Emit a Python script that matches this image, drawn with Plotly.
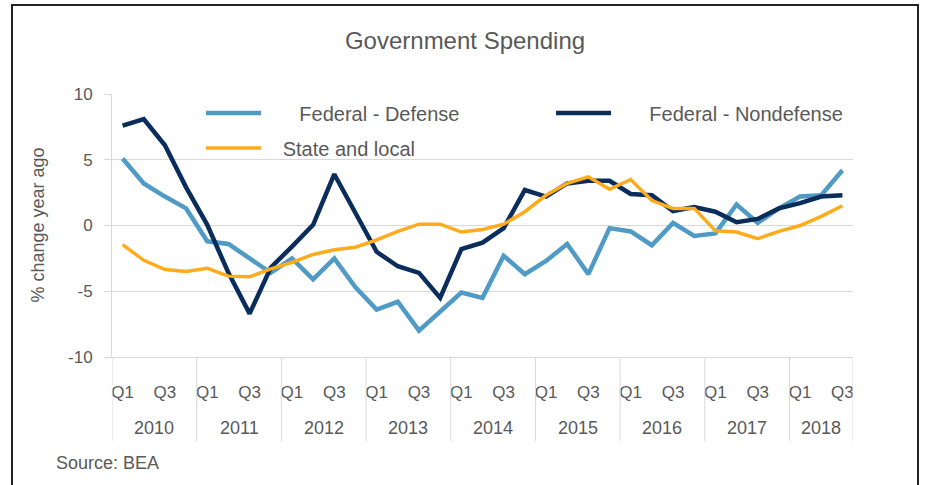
import plotly.graph_objects as go

years = ["2010", "2011", "2012", "2013", "2014", "2015", "2016", "2017", "2018"]
quarters = ["Q1", "Q2", "Q3", "Q4"]
shown_quarters = ["Q1", "Q3"]

defense = [5.1, 3.2, 2.2, 1.3, -1.2, -1.4, -2.5, -3.6, -2.5, -4.1, -2.5, -4.7,
           -6.4, -5.8, -8.0, -6.6, -5.1, -5.5, -2.3, -3.7, -2.7, -1.4, -3.7, -0.2,
           -0.45, -1.5, 0.2, -0.8, -0.6, 1.6, 0.2, 1.3, 2.2, 2.3, 4.2]
nondefense = [7.6, 8.1, 6.1, 2.9, 0.05, -3.6, -6.7, -3.2, -1.6, 0.05, 3.9, 0.9,
              -2.0, -3.1, -3.6, -5.5, -1.8, -1.3, -0.2, 2.7, 2.2, 3.2, 3.4, 3.4,
              2.4, 2.3, 1.1, 1.4, 1.05, 0.25, 0.5, 1.3, 1.7, 2.2, 2.3]
state_local = [-1.45, -2.65, -3.35, -3.5, -3.25, -3.85, -3.9, -3.3, -2.8, -2.2, -1.85, -1.65,
               -1.1, -0.45, 0.1, 0.1, -0.5, -0.3, 0.1, 1.05, 2.3, 3.2, 3.7, 2.75,
               3.5, 1.9, 1.3, 1.3, -0.4, -0.5, -1.0, -0.45, 0.0, 0.7, 1.5]

y_ticks = [-10, -5, 0, 5, 10]
y_ticktext = ["-10", "-5", "0", "5", "10"]

n = len(defense)
cats = [f"{years[i // 4]} {quarters[i % 4]}" for i in range(n)]
tick_vals = [c for c in cats if c.split(" ")[1] in shown_quarters]
tick_text = [c.split(" ")[1] for c in tick_vals]

FONT = "Liberation Sans, Arial, sans-serif"
TXT = "#595959"
GRID = "#d9d9d9"
SP = "\u00a0"

fig = go.Figure()
fig.add_trace(go.Scatter(x=cats, y=defense, mode="lines", name=SP * 6 + "Federal - Defense",
                         line=dict(color="#4F9BC6", width=4.5), legend="legend"))
fig.add_trace(go.Scatter(x=cats, y=nondefense, mode="lines", name=SP * 6 + "Federal - Nondefense",
                         line=dict(color="#0A2D5C", width=4.5), legend="legend"))
fig.add_trace(go.Scatter(x=cats, y=state_local, mode="lines", name=SP * 3 + "State and local",
                         line=dict(color="#FFAB1C", width=3.5), legend="legend2"))

W, H = 925, 485
L, R, T, B = 112, 72, 94, 128
pw, ph = W - L - R, H - T - B


def px(X):
    return (X - L) / pw


def py(Y):
    return (H - B - Y) / ph


fig.update_layout(
    width=W, height=H,
    margin=dict(l=L, r=R, t=T, b=B, autoexpand=False),
    paper_bgcolor="white", plot_bgcolor="white",
    font=dict(family=FONT, color=TXT, size=17),
    title=dict(text="Government Spending", x=465 / W, xanchor="center", xref="container",
               y=1 - 41 / H, yanchor="middle", yref="container",
               font=dict(size=24, color=TXT, family=FONT)),
    showlegend=True,
    legend=dict(orientation="h", x=px(201), xanchor="left", y=py(113), yanchor="middle",
                font=dict(size=20, color=TXT, family=FONT), bgcolor="rgba(0,0,0,0)",
                itemwidth=55, entrywidth=280, traceorder="normal"),
    legend2=dict(orientation="h", x=px(201), xanchor="left", y=py(148), yanchor="middle",
                 font=dict(size=20, color=TXT, family=FONT), bgcolor="rgba(0,0,0,0)",
                 itemwidth=55),
    xaxis=dict(type="category", categoryorder="array", categoryarray=cats,
               range=[-0.5, n - 0.5], showline=True, linecolor=GRID, linewidth=1,
               showgrid=False, ticks="", tickangle=0,
               tickvals=tick_vals, ticktext=tick_text,
               tickfont=dict(size=17, color=TXT, family=FONT),
               ticklabelstandoff=20),
    yaxis=dict(range=[-10, 10], tickvals=y_ticks, ticktext=y_ticktext,
               showgrid=True, gridcolor=GRID, gridwidth=1,
               zeroline=False, showline=True, linecolor=GRID, linewidth=1,
               ticks="outside", ticklen=7, tickcolor=GRID,
               tickfont=dict(size=17, color=TXT, family=FONT), ticklabelstandoff=8),
)

# year group labels and dividers on the category axis
for k, yr in enumerate(years):
    idx = [i for i, c in enumerate(cats) if c.startswith(yr)]
    start, end = idx[0] - 0.5, idx[-1] + 0.5
    fig.add_annotation(text=yr, xref="x", yref="paper", x=(start + end) / 2, y=py(428),
                       xanchor="center", yanchor="middle", showarrow=False,
                       font=dict(size=18, color=TXT, family=FONT))
    fig.add_shape(type="line", xref="x", yref="paper", x0=start, x1=start, y0=0, y1=py(441),
                  line=dict(color=GRID, width=1))
    if k == len(years) - 1:
        fig.add_shape(type="line", xref="x", yref="paper", x0=end, x1=end, y0=0, y1=py(441),
                      line=dict(color=GRID, width=1))

fig.add_annotation(text="% change year ago", textangle=-90, xref="paper", yref="paper",
                   x=px(37), y=0.5, xanchor="center", yanchor="middle", showarrow=False,
                   font=dict(size=18, color=TXT, family=FONT))
fig.add_annotation(text="Source: BEA", xref="paper", yref="paper",
                   x=px(54), y=py(463), xanchor="left", yanchor="middle", showarrow=False,
                   font=dict(size=18, color=TXT, family=FONT))
fig.add_shape(type="rect", xref="paper", yref="paper",
              x0=px(12), x1=px(918), y0=py(495), y1=py(5),
              line=dict(color="#222222", width=2), fillcolor="rgba(0,0,0,0)", layer="below")

fig.write_html("out.html", post_script="document.body.style.margin='0';",
               config={"displayModeBar": False})
